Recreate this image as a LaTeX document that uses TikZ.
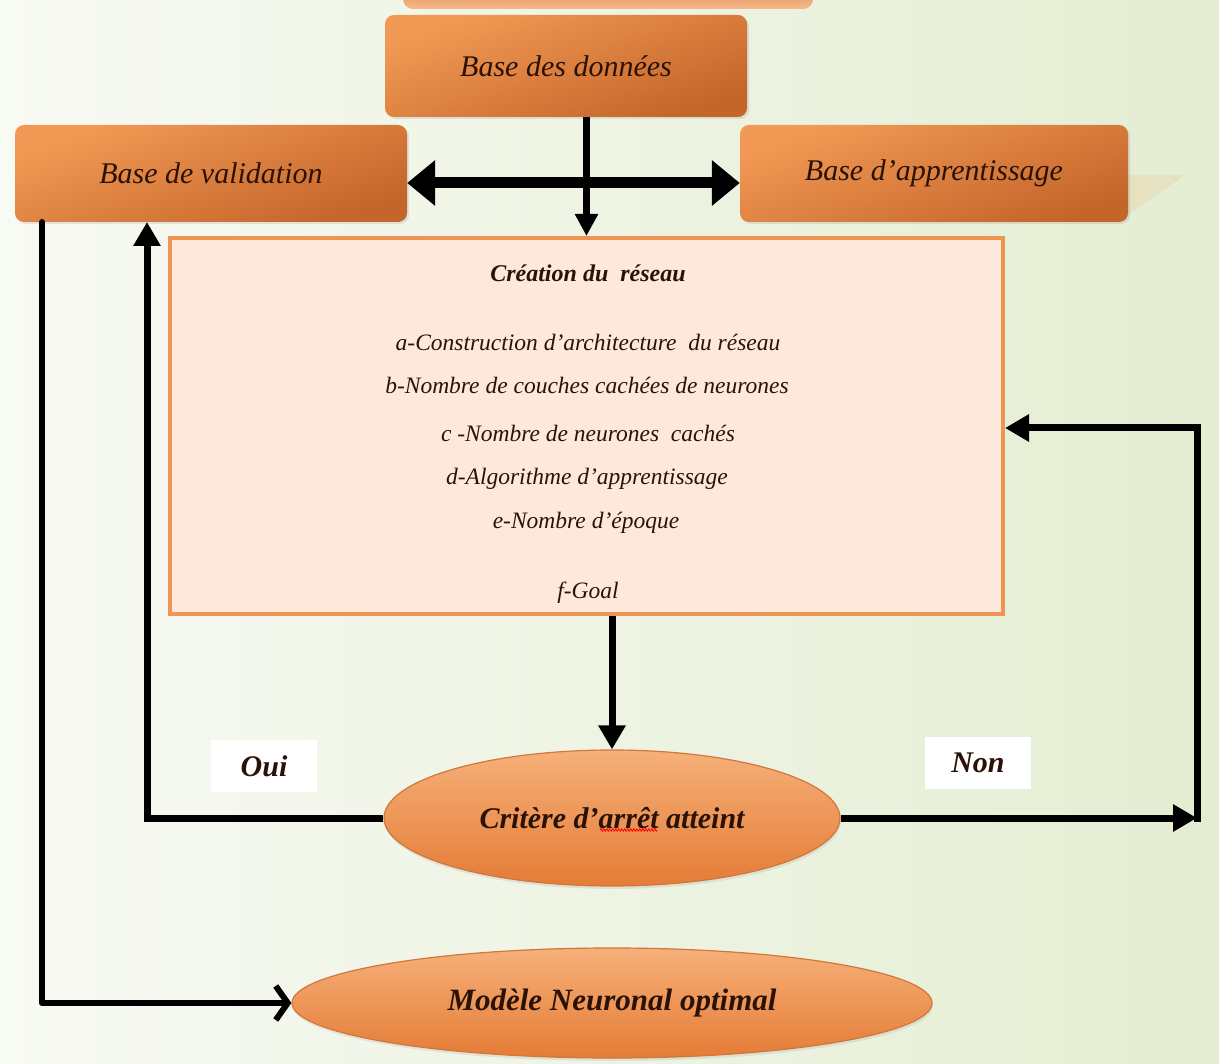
\documentclass[tikz,border=0pt]{standalone}
\usepackage{fontspec}
\setmainfont{Liberation Serif}
\usetikzlibrary{arrows.meta,shapes.geometric,shadows,decorations.pathmorphing}
\definecolor{bgA}{HTML}{F8FAF4}
\definecolor{bgB}{HTML}{E4EDD2}
\definecolor{orA}{HTML}{F29A55}
\definecolor{orB}{HTML}{C4652A}
\definecolor{elA}{HTML}{F6B07A}
\definecolor{elB}{HTML}{E47C36}
\definecolor{elLine}{HTML}{D2763A}
\definecolor{boxfill}{HTML}{FCE9DC}
\definecolor{boxline}{HTML}{EF9551}
\definecolor{ink}{HTML}{2A1206}
\begin{document}
\begin{tikzpicture}[x=1pt,y=-1pt,
  basebox/.style={rectangle, rounded corners=9pt, inner sep=0pt,
    top color=orA, bottom color=orB, shading angle=20,
    drop shadow={opacity=0.18, shadow xshift=2pt, shadow yshift=-2pt},
    text=ink, font=\fontsize{30}{34}\selectfont\itshape},
  oval/.style={ellipse, inner sep=0pt, draw=elLine, line width=1.2pt,
    top color=elA, bottom color=elB,
    drop shadow={opacity=0.15, shadow xshift=1pt, shadow yshift=-3pt},
    text=ink},
  boxtxt/.style={text=ink, font=\fontsize{23.5}{28}\selectfont\itshape, inner sep=0pt},
  lab/.style={fill=white, inner sep=0pt, minimum width=106pt, minimum height=52pt,
    text=ink, font=\fontsize{30}{34}\selectfont\bfseries\itshape},
  arr/.style={line width=7pt, -{Triangle[length=24pt,width=26pt]}},
  dblarr/.style={line width=11pt, {Triangle[length=28pt,width=44pt]}-{Triangle[length=28pt,width=44pt]}},
  barb/.style={line width=6pt, line cap=round, line join=round,
    -{Straight Barb[length=12pt,width=34pt,line width=6pt]}}
]
% backdrop
\shade[left color=bgA, right color=bgB] (0,0) rectangle (1219,1064);
\useasboundingbox (0,0) rectangle (1219,1064);
\begin{scope}
  \clip (0,0) rectangle (1219,1064);
  % lower edge of a shape above the top border
  \shade[top color=orB, bottom color=orA!70, rounded corners=10pt] (403,-40) rectangle (813,9);
  % faint reflection beside the right box
  \fill[orA, opacity=0.15] (1128,175) -- (1185,175) -- (1128,215) -- cycle;
\end{scope}

% data bases
\node[basebox, minimum width=362pt, minimum height=102pt] (db) at (566,66) {Base des donn\'ees};
\node[basebox, minimum width=392pt, minimum height=97pt] (val) at (211,173.5) {Base de validation};
\node[basebox, minimum width=388pt, minimum height=97pt] (appr) at (934,173.5) {Base d'apprentissage};

% network creation panel
\node[rectangle, fill=boxfill, draw=boxline, line width=4pt, inner sep=0pt,
      minimum width=833pt, minimum height=376pt] (box) at (586.5,426) {};
\node[boxtxt, font=\fontsize{24}{28}\selectfont\bfseries\itshape] (t0) at (588,273) {Cr\'eation du \ r\'eseau};
\node[boxtxt] (t1) at (588,342) {a-Construction d'architecture \ du r\'eseau};
\node[boxtxt] (t2) at (587,385) {b-Nombre de couches cach\'ees de neurones};
\node[boxtxt] (t3) at (588,433) {c -Nombre de neurones \ cach\'es};
\node[boxtxt] (t4) at (587,479) {d-Algorithme d'apprentissage};
\node[boxtxt] (t5) at (586,523) {e-Nombre d'\'epoque};
\node[boxtxt] (t6) at (588,593) {f-Goal};

% decision and result
\node[oval, minimum width=456pt, minimum height=136pt,
      font=\fontsize{30}{34}\selectfont\bfseries\itshape] (crit) at (612,818) {Crit\`ere d'arr\^et atteint};
\node[oval, minimum width=640pt, minimum height=110pt,
      font=\fontsize{31}{35}\selectfont\bfseries\itshape] (mod) at (612,1003) {Mod\`ele Neuronal optimal};
\draw[red, line width=0.8pt, decorate, decoration={zigzag, segment length=3pt, amplitude=1.2pt}]
  (600,830) -- (657,830);

\node[lab] (oui) at (264,766) {Oui};
\node[lab] (non) at (978,763) {Non};

% junction points of the loops
\coordinate (valin) at (147,222);
\coordinate (vout) at (42,222);
\coordinate (rt) at (1197,818);
\coordinate (boxin) at (1005,428);

% connectors
\draw[dblarr] ([yshift=-9.5pt]val.east) -- ([yshift=-9.5pt]appr.west);
\draw[line width=7pt, -{Triangle[length=22pt,width=22pt]}] (db.south -| box.north) -- (box.north);
\draw[arr] (box.south -| crit.north) -- (crit.north);
\draw[arr] (crit.west) -| (valin);
\draw[arr] (crit.east) -- (rt);
\draw[arr] ([yshift=-4pt]rt) |- (boxin);
\draw[barb] (vout) |- (mod.west);
\end{tikzpicture}
\end{document}
